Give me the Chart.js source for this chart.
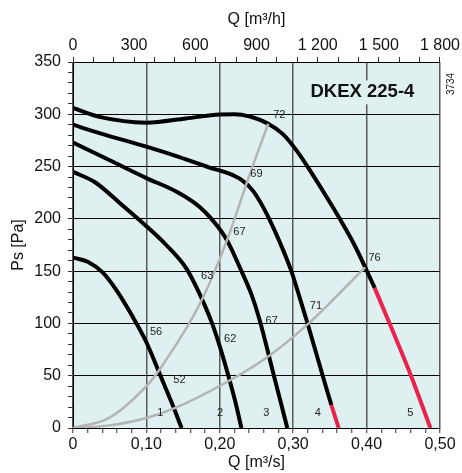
<!DOCTYPE html>
<html>
<head>
<meta charset="utf-8">
<script src="https://cdn.jsdelivr.net/npm/chart.js@4/dist/chart.umd.min.js"></script>
<style>
  body { margin: 0; background: #fff; }
</style>
</head>
<body>
<canvas id="fanChart" width="462" height="473"></canvas>
<script>
// tick labels
const qsLabels = ['0', '0,10', '0,20', '0,30', '0,40', '0,50'];
const qhLabels = ['0', '300', '600', '900', '1 200', '1 500', '1 800'];
const psLabels = ['0', '50', '100', '150', '200', '250', '300', '350'];

// fan curves [Q m3/s, Ps Pa], speed steps 1..5
const curve1 = [[0, 163], [0.02, 159], [0.04, 149], [0.06, 131], [0.08, 108], [0.1, 82], [0.118, 52], [0.134, 25], [0.148, 0]];
const curve2 = [[0, 245], [0.03, 235], [0.064, 215], [0.1, 193], [0.127, 175], [0.155, 152], [0.172, 129], [0.189, 101], [0.2, 78], [0.211, 51.6], [0.221, 25.6], [0.2295, 0]];
const curve3 = [[0, 273], [0.05, 256], [0.1, 239], [0.141, 226], [0.173, 211], [0.2, 190], [0.211, 178], [0.227, 154], [0.243, 128], [0.254, 104], [0.273, 52], [0.292, 0]];
const curve4 = [[0, 290], [0.036, 282], [0.1, 269], [0.145, 259], [0.186, 249], [0.21, 244], [0.23, 237], [0.245, 227], [0.26, 210], [0.274, 190], [0.297, 151], [0.31, 122], [0.32, 99], [0.3406, 49], [0.352, 22]];
const curve4Red = [[0.352, 22], [0.362, 0]];
const curve5 = [[0, 306], [0.036, 297.5], [0.1, 292], [0.154, 296], [0.2, 299.8], [0.22, 300], [0.24, 298], [0.266, 291], [0.286, 281], [0.305, 265], [0.3195, 250], [0.342, 225], [0.3635, 200], [0.3835, 175], [0.4005, 150], [0.411, 134]];
const curve5Red = [[0.411, 134], [0.46, 51], [0.487, 0]];

// system curves
const systemA = [[0, 0], [0.05, 10], [0.1, 40], [0.118, 56], [0.173, 119], [0.209, 178], [0.241, 243], [0.266, 291]];
const systemB = [[0, 0], [0.05, 2.5], [0.1, 9.5], [0.1385, 19], [0.211, 44.5], [0.266, 68.4], [0.32, 99.3], [0.398, 153.7]];

// annotations [Q, Ps, text]
const curveLabels = [
  [0.281, 299, '72'], [0.25, 243, '69'], [0.2267, 187.4, '67'], [0.1828, 145, '63'],
  [0.1131, 91.9, '56'], [0.145, 45.6, '52'], [0.2142, 85.3, '62'], [0.2707, 102.4, '67'],
  [0.331, 116.6, '71'], [0.4108, 162.9, '76'],
  [0.1188, 14.6, '1'], [0.2005, 14.6, '2'], [0.2635, 14.6, '3'], [0.3334, 14.6, '4'], [0.4597, 14.6, '5']
];
const modelName = 'DKEX 225-4';
const modelPos = [0.3943, 321];
const drawingNo = '3734';

const FONT = "'Liberation Sans', Arial, sans-serif";
const BG = '#dff0f0';
const RED = '#e8244c';
const GREY = '#b4b4b4';

const toPoints = arr => arr.map(p => ({ x: p[0], y: p[1] }));

function line(data, color, width) {
  return {
    data: toPoints(data),
    showLine: true,
    borderColor: color,
    borderWidth: width,
    pointRadius: 0,
    cubicInterpolationMode: 'monotone',
    xAxisID: 'x',
    yAxisID: 'y'
  };
}

const datasets = [
  line(systemA, GREY, 2.5),
  line(systemB, GREY, 2.5),
  line(curve1, '#000', 4),
  line(curve2, '#000', 4),
  line(curve3, '#000', 4),
  line(curve4, '#000', 4),
  line(curve4Red, RED, 4),
  line(curve5, '#000', 4),
  line(curve5Red, RED, 4)
];

const chartDecor = {
  id: 'chartDecor',
  beforeDraw(chart) {
    const { ctx, chartArea: a } = chart;
    ctx.save();
    ctx.fillStyle = BG;
    ctx.fillRect(a.left, a.top, a.right - a.left, a.bottom - a.top);
    ctx.restore();
  },
  afterDatasetsDraw(chart) {
    const { ctx, chartArea: a } = chart;
    const xs = chart.scales.x, ys = chart.scales.y;
    ctx.save();
    // model name with a box that hides the grid behind it
    ctx.font = 'bold 18.5px ' + FONT;
    const mx = xs.getPixelForValue(modelPos[0]);
    const my = ys.getPixelForValue(modelPos[1]);
    const w = ctx.measureText(modelName).width;
    ctx.fillStyle = BG;
    ctx.fillRect(mx - w / 2 - 3, my - 12, w + 6, 24);
    ctx.fillStyle = '#111';
    ctx.textAlign = 'center';
    ctx.textBaseline = 'middle';
    ctx.fillText(modelName, mx, my);

    ctx.font = '11px ' + FONT;
    ctx.fillStyle = '#222';
    curveLabels.forEach(l => {
      ctx.fillText(l[2], xs.getPixelForValue(l[0]), ys.getPixelForValue(l[1]));
    });

    // drawing number, rotated
    ctx.translate(a.right + 11, a.top + 22);
    ctx.rotate(-Math.PI / 2);
    ctx.font = '10px ' + FONT;
    ctx.fillText(drawingNo, 0, 0);
    ctx.restore();
  }
};

const tickFont = { family: FONT, size: 16 };
const titleFont = { family: FONT, size: 16 };
const clear = 'rgba(0,0,0,0)';

const ctx = document.getElementById('fanChart').getContext('2d');
const fanChart = new Chart(ctx, {
  type: 'scatter',
  data: { datasets: datasets },
  plugins: [chartDecor],
  options: {
    responsive: false,
    animation: false,
    layout: { padding: { left: 0, right: 21, top: 0, bottom: 0 } },
    plugins: { legend: { display: false }, tooltip: { enabled: false } },
    scales: {
      x: {
        type: 'linear',
        position: 'bottom',
        min: 0,
        max: 0.5,
        afterFit: s => { s.height = 45; },
        ticks: {
          stepSize: 0.02,
          maxTicksLimit: 1000,
          autoSkip: false,
          maxRotation: 0,
          padding: 2,
          color: '#111',
          font: tickFont,
          callback: (v, i) => (i % 5 === 0 ? qsLabels[i / 5] : '')
        },
        grid: {
          color: c => (c.index % 5 === 0 ? '#5a5a5a' : clear),
          lineWidth: 1.5,
          tickColor: '#333',
          tickWidth: 1,
          tickLength: 5
        },
        border: { color: '#000', width: 1 },
        title: { display: true, text: 'Q [m³/s]', color: '#111', font: titleFont, padding: { top: 0, bottom: 1 } }
      },
      x2: {
        type: 'linear',
        position: 'top',
        min: 0,
        max: 1800,
        afterFit: s => { s.height = 62; },
        ticks: {
          stepSize: 100,
          maxTicksLimit: 1000,
          autoSkip: false,
          maxRotation: 0,
          padding: 2,
          color: '#111',
          font: tickFont,
          callback: (v, i) => (i % 3 === 0 ? qhLabels[i / 3] : '')
        },
        grid: {
          drawOnChartArea: false,
          tickColor: '#333',
          tickWidth: 1,
          tickLength: 5
        },
        border: { color: '#000', width: 1 },
        title: { display: true, text: 'Q [m³/h]', color: '#111', font: titleFont, padding: { top: 10, bottom: 0 } }
      },
      y: {
        type: 'linear',
        position: 'left',
        min: 0,
        max: 350,
        afterFit: s => { s.width = 73; },
        ticks: {
          stepSize: 10,
          maxTicksLimit: 1000,
          autoSkip: false,
          padding: 7,
          color: '#111',
          font: tickFont,
          callback: (v, i) => (i % 5 === 0 ? psLabels[i / 5] : '')
        },
        grid: {
          color: c => (c.index % 5 === 0 ? '#000' : clear),
          lineWidth: 1,
          tickColor: '#333',
          tickWidth: 1,
          tickLength: 5
        },
        border: { color: '#000', width: 1 },
        title: { display: true, text: 'Ps [Pa]', color: '#111', font: titleFont, padding: { top: 9, bottom: 0 } }
      }
    }
  }
});
</script>
</body>
</html>
